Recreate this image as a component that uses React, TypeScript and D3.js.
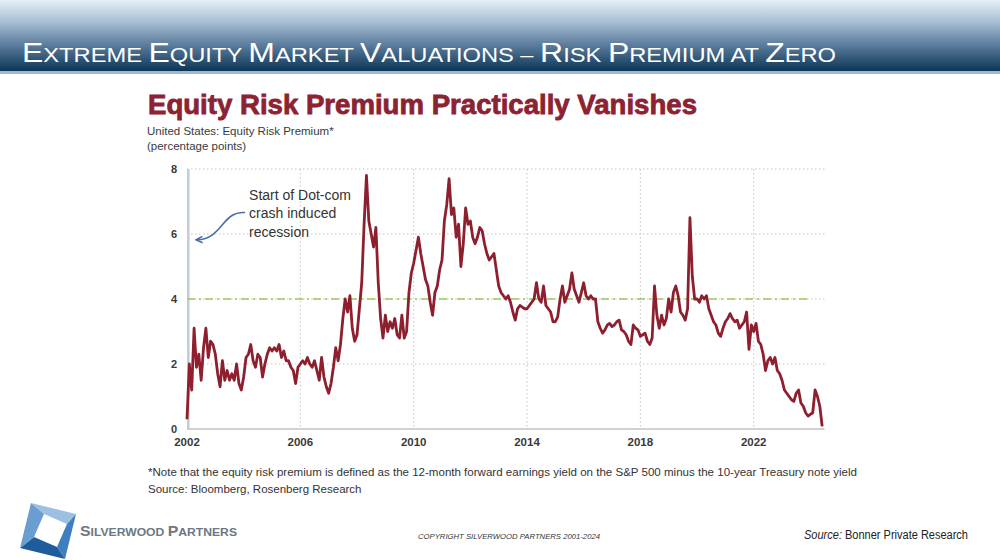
import * as d3 from "d3";

// monthly readings of the equity risk premium, starting Jan 2002
const erp2002to2005 = [
  0.3, 2.0, 1.2, 3.1, 1.9, 2.3, 1.5, 2.5, 3.1, 2.2, 2.7, 2.6,
  2.3, 1.7, 1.3, 2.1, 1.5, 1.8, 1.5, 1.7, 1.5, 2.0, 1.4, 1.2,
  1.6, 2.2, 2.3, 2.6, 2.1, 1.9, 2.3, 2.2, 1.6, 2.0, 2.3, 2.5,
  2.4, 2.5, 2.4, 2.6, 2.2, 2.4, 2.1, 2.1, 1.9, 1.8, 1.4, 1.9,
];
const erp2006to2009 = [
  2.0, 2.1, 2.0, 2.2, 2.0, 1.9, 2.1, 1.8, 1.5, 2.2, 1.6, 1.3,
  1.1, 1.4, 1.9, 2.5, 2.1, 2.6, 3.4, 4.0, 3.6, 4.1, 3.1, 2.7,
  2.9, 3.7, 4.5, 6.3, 7.8, 6.4, 6.0, 5.6, 6.2, 4.5, 3.4, 2.8,
  3.5, 3.0, 3.3, 3.1, 3.4, 2.9, 2.8, 3.5, 2.8, 3.0, 4.2, 4.8,
];
const erp2010to2013 = [
  5.1, 5.5, 5.9, 5.4, 5.0, 4.6, 4.4, 3.9, 3.5, 4.2, 4.4, 4.9,
  5.2, 6.4, 6.9, 7.7, 6.6, 6.8, 5.9, 6.3, 5.0, 5.7, 6.8, 6.3,
  6.4, 5.9, 5.7, 5.9, 6.2, 6.1, 5.7, 5.4, 5.2, 5.3, 5.4, 4.9,
  4.4, 4.2, 4.1, 4.0, 4.1, 3.9, 3.6, 3.35, 3.7, 3.8, 3.75, 3.7,
];
const erp2014to2017 = [
  3.7, 3.8, 3.9, 4.0, 4.5, 4.0, 3.9, 4.4, 3.8, 3.7, 3.6, 3.3,
  3.3, 3.45, 4.0, 4.4, 3.9, 4.1, 4.3, 4.8, 4.3, 4.1, 3.9, 4.2,
  4.5, 4.1, 4.0, 4.1, 4.0, 4.0, 3.3, 3.1, 2.95, 3.05, 3.2, 3.25,
  3.15, 3.2, 3.3, 3.35, 3.05, 3.0, 2.9, 2.7, 2.6, 3.2, 3.1, 3.05,
];
const erp2018to2021 = [
  2.85, 2.9, 2.95, 2.7, 2.6, 2.8, 4.4, 3.5, 3.1, 3.5, 3.2, 3.4,
  4.0, 3.6, 4.2, 4.4, 4.1, 3.6, 3.5, 3.35, 3.7, 6.5, 4.7, 4.0,
  4.0, 3.9, 4.1, 4.0, 4.1, 3.7, 3.5, 3.3, 3.2, 2.95, 2.85, 3.1,
  3.3, 3.4, 3.55, 3.4, 3.3, 3.35, 3.1, 3.2, 3.3, 3.6, 2.45, 3.2,
];
const erp2022to2024 = [
  3.0, 3.25, 2.7, 2.6, 2.3, 1.8, 2.1, 2.2, 2.0, 2.2, 1.8, 1.7,
  1.5, 1.2, 1.1, 1.0, 0.9, 0.85, 1.1, 1.2, 0.8, 0.7, 0.5, 0.4,
  0.45, 0.5, 1.2, 1.0, 0.7, 0.08,
];

const startYear = 2002;
const yearTicks = [2002, 2006, 2010, 2014, 2018, 2022];
const valueTicks = [0, 2, 4, 6, 8];
const threshold = 4;
const recessionBand = [2002.0, 2002.09];

const headerTitle = "Extreme Equity Market Valuations – Risk Premium at Zero";
const chartTitle = "Equity Risk Premium Practically Vanishes";
const subtitle = ["United States: Equity Risk Premium*", "(percentage points)"];
const noteLines = [
  "*Note that the equity risk premium is defined as the 12-month forward earnings yield on the S&P 500 minus the 10-year Treasury note yield",
  "Source: Bloomberg, Rosenberg Research",
];
const annotationLines = ["Start of Dot-com", "crash induced", "recession"];
// arrow path in [year, value] units: start, control 1, control 2, tip
const arrowPts: [number, number][] = [
  [2004.05, 6.66],
  [2003.2, 6.7],
  [2003.3, 5.86],
  [2002.35, 5.82],
];

const erp = [
  ...erp2002to2005,
  ...erp2006to2009,
  ...erp2010to2013,
  ...erp2014to2017,
  ...erp2018to2021,
  ...erp2022to2024,
];

const sans = "'Liberation Sans', Arial, sans-serif";
const narrow = "'Liberation Sans Narrow', 'Liberation Sans', Arial, sans-serif";

const HeaderTitle = () => {
  const words = headerTitle.split(" ");
  return (
    <text
      x={22}
      y={62}
      fill="#fff"
      fontFamily={narrow}
      textLength={814}
      lengthAdjust="spacingAndGlyphs"
    >
      {words.map((w, i) => {
        const small = w === "at" || w === "–";
        const gap = i < words.length - 1 ? " " : "";
        if (small)
          return (
            <tspan key={i} fontSize={20}>
              {w.toUpperCase() + gap}
            </tspan>
          );
        return (
          <tspan key={i}>
            <tspan fontSize={27}>{w[0]}</tspan>
            <tspan fontSize={20}>{w.slice(1).toUpperCase() + gap}</tspan>
          </tspan>
        );
      })}
    </text>
  );
};

const Logo = () => {
  const outer = [
    [31, 503],
    [76, 514],
    [65, 559],
    [20, 548],
  ];
  const inner = [
    [44, 514],
    [67, 524],
    [57, 547],
    [34, 537],
  ];
  const shades = ["#9cbfe2", "#3f7fc0", "#1f5c9c", "#6a9dd0"];
  return (
    <g>
      {shades.map((c, i) => {
        const j = (i + 1) % 4;
        const pts = [outer[i], outer[j], inner[j], inner[i]];
        return <polygon key={i} points={pts.map((p) => p.join(",")).join(" ")} fill={c} />;
      })}
    </g>
  );
};

const App = () => {
  const x = d3.scaleLinear().domain([2002, 2022]).range([187, 753.7]);
  const y = d3.scaleLinear().domain([0, 8]).range([429, 169]);
  const xEnd = x(2024.5);

  const line = d3
    .line<number>()
    .x((_, i) => x(startYear + i / 12))
    .y((d) => y(d));

  const arrow = d3.path();
  const ap = arrowPts.map(([a, b]) => [x(a), y(b)]);
  arrow.moveTo(ap[0][0], ap[0][1]);
  arrow.bezierCurveTo(ap[1][0], ap[1][1], ap[2][0], ap[2][1], ap[3][0], ap[3][1]);

  const ann = { x: x(2004.19), y: y(7.05) };

  return (
    <svg
      width={1000}
      height={560}
      style={{ position: "absolute", left: 0, top: 0, background: "#fff" }}
    >
      <defs>
        <linearGradient id="hdr" x1="0" y1="0" x2="0" y2="1">
          <stop offset="0%" stopColor="#e6eef6" />
          <stop offset="30%" stopColor="#a9c0d6" />
          <stop offset="62%" stopColor="#5f7f9f" />
          <stop offset="100%" stopColor="#0b3656" />
        </linearGradient>
        <linearGradient id="rule" x1="0" y1="0" x2="1" y2="0">
          <stop offset="0%" stopColor="#c8c8c8" />
          <stop offset="30%" stopColor="#8f8f8f" />
          <stop offset="60%" stopColor="#b8b8b8" />
          <stop offset="100%" stopColor="#9a9a9a" />
        </linearGradient>
        <marker
          id="tip"
          viewBox="0 0 10 10"
          refX="8"
          refY="5"
          markerWidth="5"
          markerHeight="5"
          orient="auto"
        >
          <path d="M1,1 L9,5 L1,9" fill="none" stroke="#4a6fa8" strokeWidth={2} />
        </marker>
      </defs>

      {/* header band */}
      <rect x={0} y={0} width={1000} height={71} fill="url(#hdr)" />
      <rect x={0} y={71} width={1000} height={3} fill="#9fb9d0" />
      <HeaderTitle />

      {/* chart title block */}
      <text
        x={148}
        y={114}
        fill="#8c2232"
        stroke="#8c2232"
        strokeWidth={0.8}
        fontFamily={sans}
        fontWeight="bold"
        fontSize={27}
        textLength={549}
        lengthAdjust="spacingAndGlyphs"
      >
        {chartTitle}
      </text>
      {subtitle.map((s, i) => (
        <text key={s} x={147} y={135 + i * 14.5} fontFamily={sans} fontSize={11.5} fill="#3a3a3a">
          {s}
        </text>
      ))}

      {/* grid */}
      {valueTicks
        .filter((v) => v > 0)
        .map((v) => (
          <line
            key={v}
            x1={x(2002)}
            x2={xEnd}
            y1={y(v)}
            y2={y(v)}
            stroke="#c4c4c4"
            strokeWidth={1}
            strokeDasharray="1.5,2.5"
          />
        ))}
      {yearTicks
        .filter((t) => t > 2002)
        .map((t) => (
          <line
            key={t}
            x1={x(t)}
            x2={x(t)}
            y1={y(8)}
            y2={y(0)}
            stroke="#c4c4c4"
            strokeWidth={1}
            strokeDasharray="1.5,2.5"
          />
        ))}
      <rect
        x={x(recessionBand[0])}
        y={y(8)}
        width={Math.max(2.5, x(recessionBand[1]) - x(recessionBand[0]))}
        height={y(0) - y(8)}
        fill="#c3cdd8"
      />
      <line x1={x(2002)} x2={xEnd} y1={y(0)} y2={y(0)} stroke="#c2c2c2" strokeWidth={1.5} />

      {/* threshold */}
      <line
        x1={x(2002)}
        x2={x(2024)}
        y1={y(threshold)}
        y2={y(threshold)}
        stroke="#9dca5c"
        strokeWidth={1.6}
        strokeDasharray="8,4,2,4"
      />

      {/* series */}
      <path
        d={line(erp) ?? ""}
        fill="none"
        stroke="#8e1f2e"
        strokeWidth={2.8}
        strokeLinejoin="round"
      />

      {/* axes labels */}
      {valueTicks.map((v) => (
        <text
          key={v}
          x={177}
          y={y(v) + 4}
          textAnchor="end"
          fontFamily={sans}
          fontSize={11}
          fontWeight="bold"
          fill="#3a3a3a"
        >
          {v}
        </text>
      ))}
      {yearTicks.map((t) => (
        <text
          key={t}
          x={x(t)}
          y={446}
          textAnchor="middle"
          fontFamily={sans}
          fontSize={11.5}
          fontWeight="bold"
          fill="#3a3a3a"
        >
          {t}
        </text>
      ))}

      {/* annotation */}
      {annotationLines.map((s, i) => (
        <text key={s} x={ann.x} y={ann.y + i * 18.5} fontFamily={sans} fontSize={14} fill="#333">
          {s}
        </text>
      ))}
      <path
        d={arrow.toString()}
        fill="none"
        stroke="#4a6fa8"
        strokeWidth={1.6}
        markerEnd="url(#tip)"
      />

      {/* notes */}
      <text
        x={148}
        y={476}
        fontFamily={narrow}
        fontSize={11.5}
        fill="#333"
        textLength={709}
        lengthAdjust="spacingAndGlyphs"
      >
        {noteLines[0]}
      </text>
      <text x={148} y={493} fontFamily={narrow} fontSize={11.5} fill="#333">
        {noteLines[1]}
      </text>

      {/* footer */}
      <line x1={85} x2={975} y1={515} y2={515} stroke="url(#rule)" strokeWidth={1.2} />
      <Logo />
      <text
        x={80}
        y={536}
        fontFamily={sans}
        fontWeight="bold"
        fill="#6c7886"
        textLength={157}
        lengthAdjust="spacingAndGlyphs"
      >
        <tspan fontSize={15}>S</tspan>
        <tspan fontSize={11.5}>ILVERWOOD </tspan>
        <tspan fontSize={15}>P</tspan>
        <tspan fontSize={11.5}>ARTNERS</tspan>
      </text>
      <text
        x={418}
        y={539}
        fontFamily={sans}
        fontStyle="italic"
        fontSize={7}
        fill="#333"
        textLength={182}
        lengthAdjust="spacingAndGlyphs"
      >
        COPYRIGHT SILVERWOOD PARTNERS 2001-2024
      </text>
      <text
        x={804}
        y={539}
        fontFamily={narrow}
        fontSize={12}
        fill="#222"
        textLength={164}
        lengthAdjust="spacingAndGlyphs"
      >
        <tspan fontStyle="italic">Source:</tspan> Bonner Private Research
      </text>
    </svg>
  );
};

export default App;
